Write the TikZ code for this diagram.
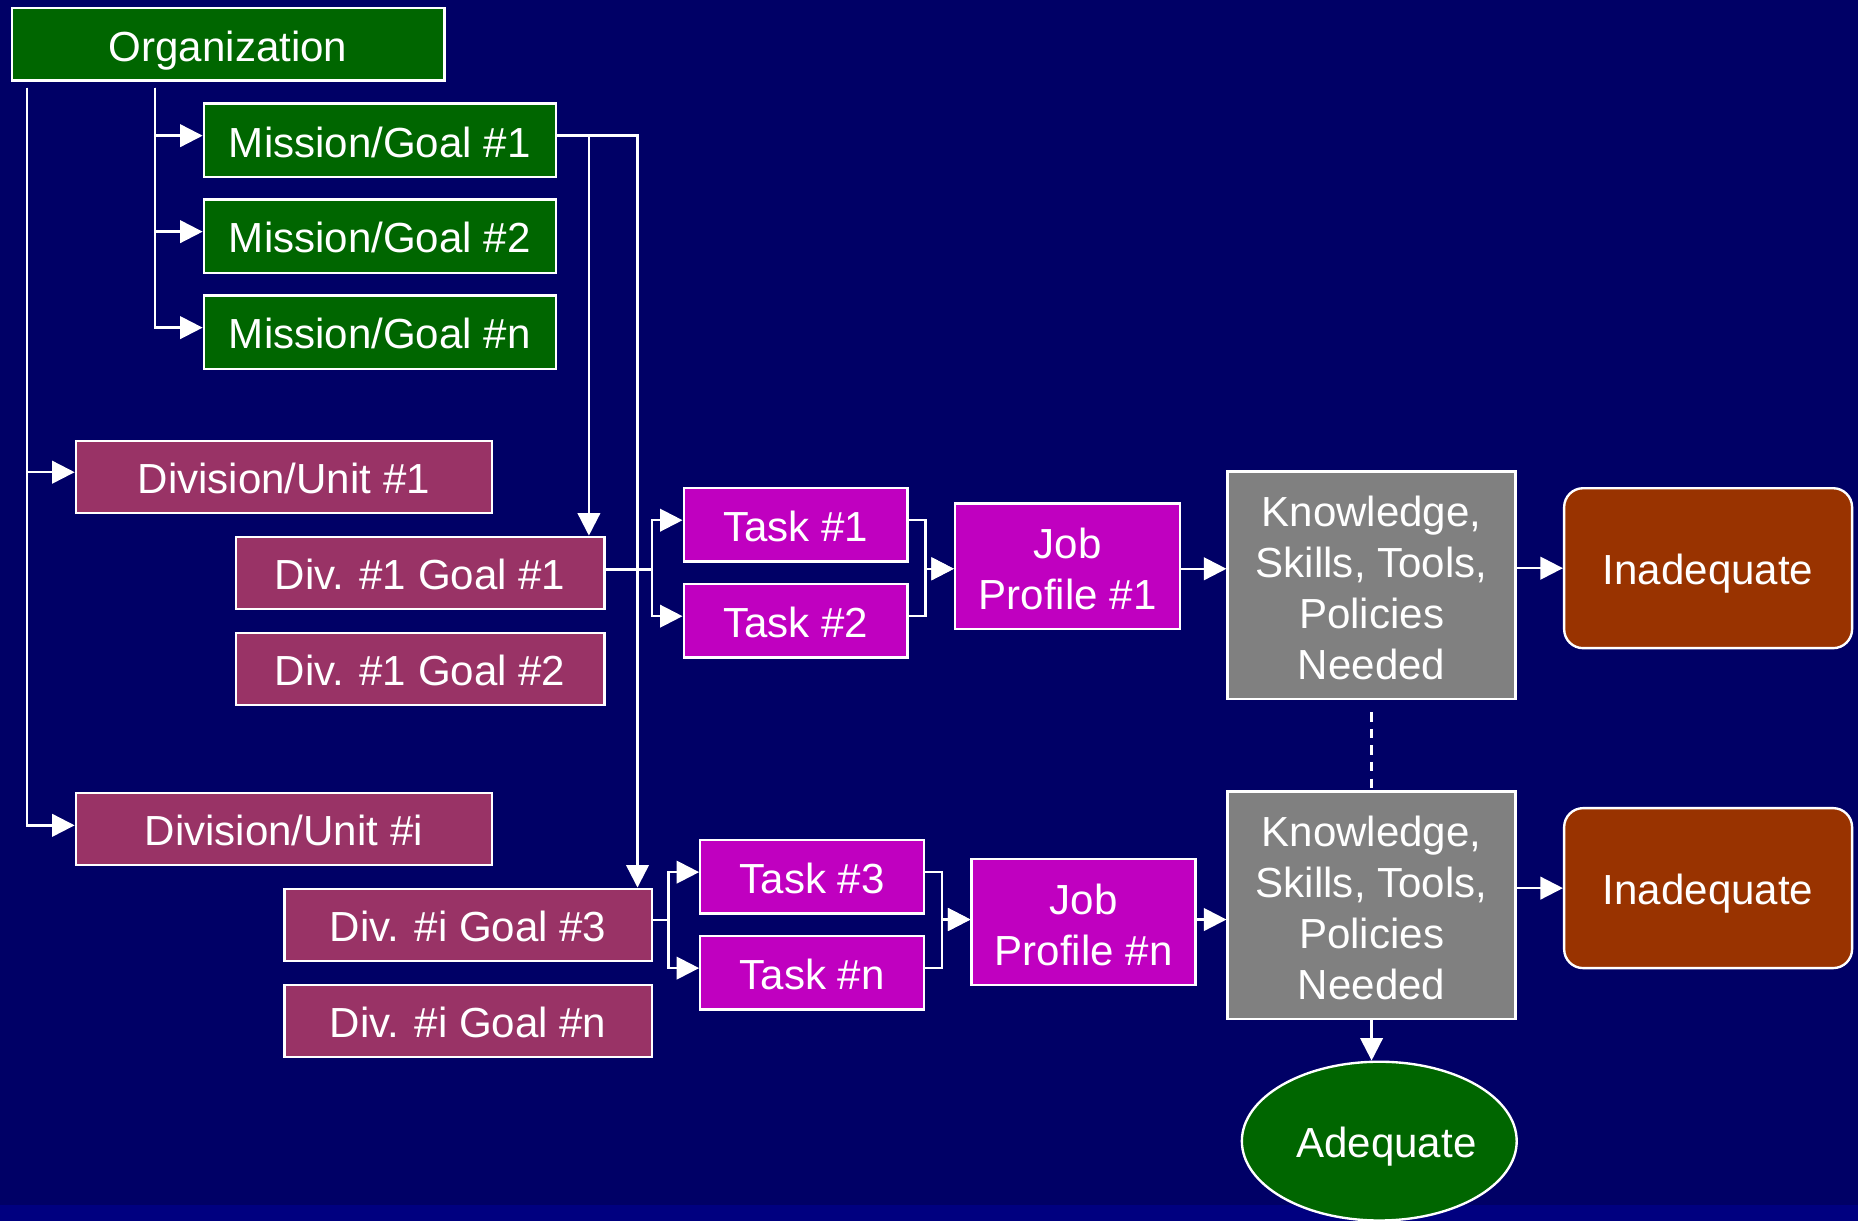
\documentclass[tikz,border=0pt]{standalone}
\usepackage{fontspec}
\setmainfont{Liberation Sans}
\usetikzlibrary{arrows.meta,shapes.geometric}
\definecolor{bgblue}{HTML}{000066}
\definecolor{bandblue}{HTML}{000080}
\definecolor{dgreen}{HTML}{006600}
\definecolor{maroon}{HTML}{993366}
\definecolor{magent}{HTML}{C000C0}
\definecolor{gbox}{HTML}{808080}
\definecolor{rust}{HTML}{993300}
\newcommand{\mlines}[1]{\raisebox{-6.5pt}[\height][\depth]{\begin{tabular}{@{}c@{}}#1\end{tabular}}}
\tikzset{
  box/.style={draw=white, line width=2pt, text=white, inner sep=0pt, align=center,
    font=\fontsize{35.5}{43}\selectfont},
  one/.style={text height=28pt, text depth=0pt},
  gbx/.style={box, one, fill=dgreen},
  dbx/.style={box, one, fill=maroon, minimum height=61pt},
  tbx/.style={box, one, fill=magent, minimum width=189pt, minimum height=62pt},
  kbx/.style={box, fill=gbox, minimum width=243pt, minimum height=192pt},
  ibx/.style={box, one, fill=rust, rounded corners=16pt, minimum width=243pt, minimum height=135pt},
  arr/.style={draw=white, line width=2pt, -{Triangle[length=19pt,width=19pt]}},
  ln/.style={draw=white, line width=2pt}
}
\begin{document}
\begin{tikzpicture}[x=1pt,y=-1pt]
\useasboundingbox (0,0) rectangle (1568,1030);
\clip (0,0) rectangle (1568,1030);
\fill[bgblue] (0,0) rectangle (1568,1030);
\fill[bandblue] (0,1017) rectangle (1568,1030);

% nodes
\node[gbx, minimum width=365pt, minimum height=61pt] (org) at (192.5,37.5) {Organization};
\node[gbx, minimum width=297pt, minimum height=62pt] (m1) at (320.5,118.5) {Mission/Goal \#1};
\node[gbx, minimum width=297pt, minimum height=62pt] (m2) at (320.5,199.5) {Mission/Goal \#2};
\node[gbx, minimum width=297pt, minimum height=62pt] (mn) at (320.5,280.5) {Mission/Goal \#n};

\node[dbx, minimum width=351pt] (du1) at (239.5,402.5) {Division/Unit \#1};
\node[dbx, minimum width=351pt] (dui) at (239.5,699.5) {Division/Unit \#i};
\node[dbx, minimum width=311pt] (g11) at (354.5,483.5) {Div. \#1 Goal \#1};
\node[dbx, minimum width=311pt] (g12) at (354.5,564.5) {Div. \#1 Goal \#2};
\node[dbx, minimum width=310pt] (gi3) at (395,780.5) {Div. \#i Goal \#3};
\node[dbx, minimum width=310pt] (gin) at (395,861.5) {Div. \#i Goal \#n};

\node[tbx] (t1) at (671.5,443) {Task \#1};
\node[tbx] (t2) at (671.5,524) {Task \#2};
\node[tbx] (t3) at (685.5,740) {Task \#3};
\node[tbx] (tn) at (685.5,821) {Task \#n};

\node[box, fill=magent, minimum width=190pt, minimum height=106pt] (jp1) at (901,478) {\mlines{Job\\Profile \#1}};
\node[box, fill=magent, minimum width=189pt, minimum height=106pt] (jpn) at (914.5,778) {\mlines{Job\\Profile \#n}};

\node[kbx] (k1) at (1157.5,494) {\mlines{Knowledge,\\Skills, Tools,\\Policies\\Needed}};
\node[kbx] (k2) at (1157.5,764) {\mlines{Knowledge,\\Skills, Tools,\\Policies\\Needed}};

\node[ibx] (in1) at (1441.5,479.5) {Inadequate};
\node[ibx] (in2) at (1441.5,749.5) {Inadequate};

\node[box, one, ellipse, fill=dgreen, minimum width=230pt, minimum height=134pt] (ade) at (1164,963) {\hspace*{12pt}Adequate};

% connectors
\coordinate (oa) at (131,74);
\coordinate (ob) at (23,74);
\draw[arr] (oa) |- ([yshift=4pt]m1.west);
\draw[arr] (oa) |- ([yshift=4pt]m2.west);
\draw[arr] (oa) |- ([yshift=4pt]mn.west);
\draw[arr] (ob) |- ([yshift=4pt]du1.west);
\draw[arr] (ob) |- ([yshift=3pt]dui.west);

\draw[arr] ([yshift=4pt]m1.east) -| ([xshift=-14pt]g11.north east);
\draw[arr] ([yshift=4pt]m1.east) -| ([xshift=-13pt]gi3.north east);

\draw[arr] ([yshift=3pt]g11.east) -- ++(39,0) |- ([yshift=4pt]t1.west);
\draw[arr] ([yshift=3pt]g11.east) -- ++(39,0) |- ([yshift=4pt]t2.west);
\draw[arr] ([yshift=4pt]t1.east) -- ++(14,0) |- ([yshift=-2pt]jp1.west);
\draw[arr] ([yshift=4pt]t2.east) -- ++(14,0) |- ([yshift=-2pt]jp1.west);

\draw[arr] ([yshift=4pt]gi3.east) -- ++(13,0) |- ([yshift=4pt]t3.west);
\draw[arr] ([yshift=4pt]gi3.east) -- ++(13,0) |- ([yshift=4pt]tn.west);
\draw[arr] ([yshift=4pt]t3.east) -- ++(14,0) |- ([yshift=2pt]jpn.west);
\draw[arr] ([yshift=4pt]tn.east) -- ++(14,0) |- ([yshift=2pt]jpn.west);

\coordinate (p1) at ([yshift=-2pt]jp1.east);
\coordinate (pn) at ([yshift=2pt]jpn.east);
\draw[arr] (p1) -- (k1.west |- p1);
\draw[arr] (pn) -- (k2.west |- pn);
\draw[arr] (k1.east |- in1.west) -- (in1.west);
\draw[arr] (k2.east |- in2.west) -- (in2.west);

\draw[ln, dashed, dash pattern=on 8pt off 6pt] ([yshift=-10pt]k1.south) -- (k2.north);
\draw[arr] (k2.south) -- (k2.south |- ade.north);
\end{tikzpicture}
\end{document}
